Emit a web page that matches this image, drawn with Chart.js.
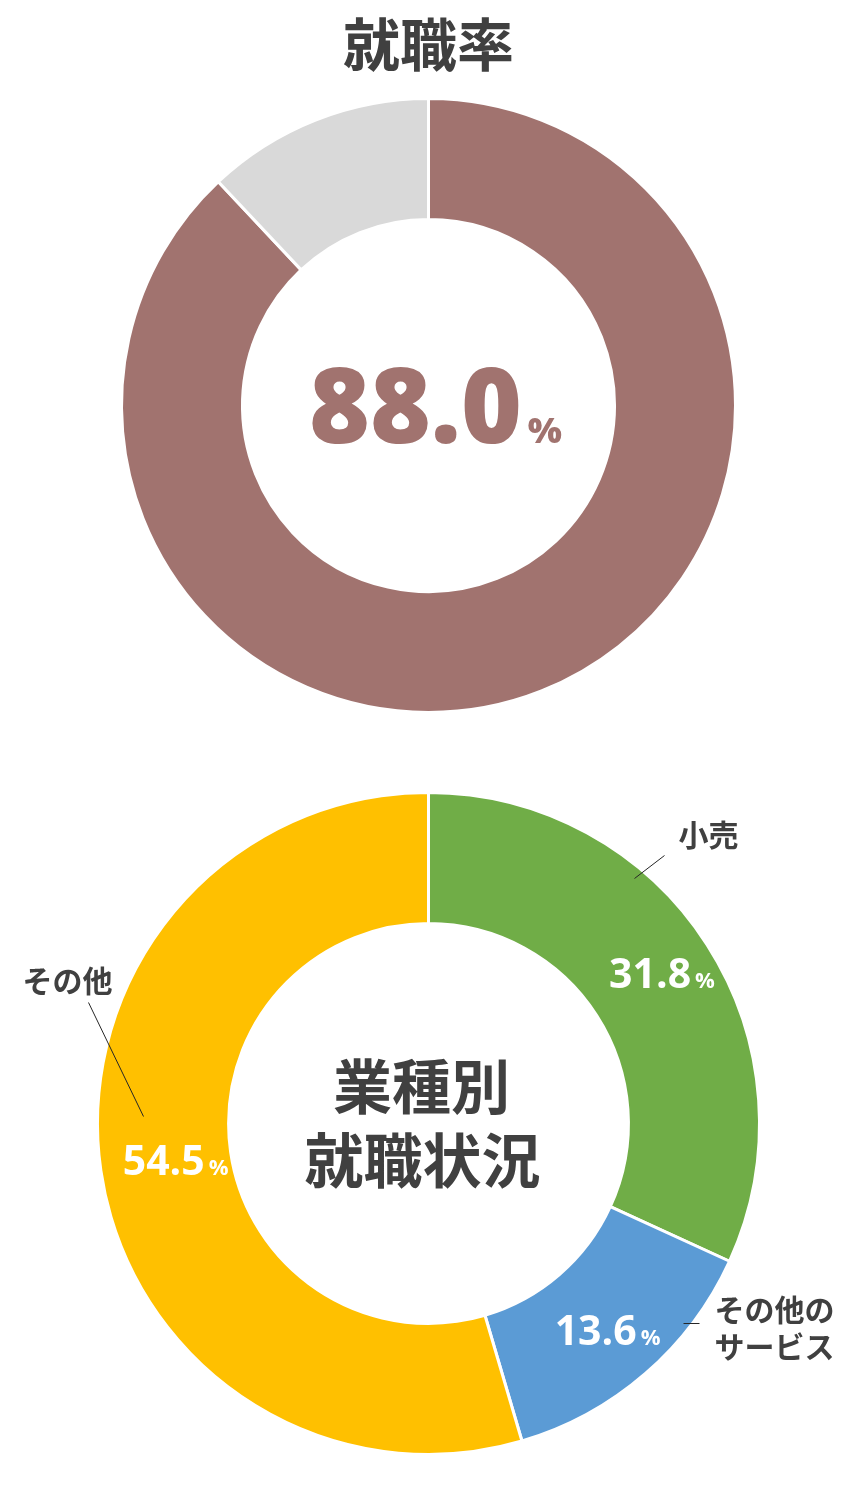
<!DOCTYPE html>
<html lang="ja">
<head>
<meta charset="utf-8">
<title>就職率 / 業種別就職状況</title>
<script src="https://cdn.jsdelivr.net/npm/chart.js"></script>
<style>
  html, body { margin: 0; padding: 0; background: #fff; }
  body { width: 857px; height: 1511px; position: relative; overflow: hidden; }
  #rateChart { position: absolute; left: 0; top: 0; }
  #sectorChart { position: absolute; left: 0; top: 720px; }
</style>
</head>
<body>
<canvas id="rateChart" width="857" height="720"></canvas>
<canvas id="sectorChart" width="857" height="791"></canvas>

<script>
/* ---------- DATA ---------- */

const rateLabels = ['就職', '未就職'];
const rateValues = [88.0, 12.0];
const rateColors = ['#A1736F', '#D9D9D9'];

const sectorLabels = ['小売', 'その他のサービス', 'その他'];
const sectorValues = [31.8, 13.6, 54.5];
const sectorColors = ['#70AD47', '#5B9BD5', '#FFC000'];

/* ---------- STYLE ---------- */

const TEXT = '#404040';
const NUM_FONT = '"Open Sans", "Noto Sans", sans-serif';
const JP_FONT = '"Noto Sans CJK JP", "Noto Sans CJK SC", sans-serif';

// draws "31.8" followed by a smaller "%", the pair centred on x / y
function drawPercent(ctx, x, y, value, o) {
  const num = value.toFixed(1);
  ctx.textAlign = 'left';
  ctx.textBaseline = 'alphabetic';
  ctx.font = `${o.weight} ${o.size}px ${NUM_FONT}`;
  const w1 = ctx.measureText(num).width;
  ctx.font = `${o.weight} ${o.pctSize}px ${NUM_FONT}`;
  const w2 = ctx.measureText('%').width;
  const left = x - (w1 + o.gap + w2) / 2;
  const base = y + o.size * 0.36;
  ctx.fillStyle = o.color;
  ctx.font = `${o.weight} ${o.size}px ${NUM_FONT}`;
  ctx.fillText(num, left, base);
  ctx.font = `${o.weight} ${o.pctSize}px ${NUM_FONT}`;
  ctx.fillText('%', left + w1 + o.gap, base);
}

/* ---------- TEXT PLUGIN ---------- */

const donutText = {
  id: 'donutText',
  afterDatasetsDraw(chart, args, opts) {
    const ctx = chart.ctx;
    const meta = chart.getDatasetMeta(0);
    const arcs = meta.data;
    const values = chart.data.datasets[0].data;
    const cx = arcs[0].x, cy = arcs[0].y;

    ctx.save();
    ctx.textBaseline = 'middle';

    if (opts.title) {
      ctx.fillStyle = TEXT;
      ctx.textAlign = 'center';
      ctx.font = `700 ${opts.title.size}px ${JP_FONT}`;
      ctx.fillText(opts.title.text, chart.width / 2, opts.title.y);
    }

    // big value in the hole
    if (opts.centerValue) {
      const c = opts.centerValue;
      drawPercent(ctx, cx + c.dx, cy + c.dy, values[c.index], c);
    }

    // words in the hole
    (opts.centerLines || []).forEach(l => {
      ctx.fillStyle = TEXT;
      ctx.textAlign = 'center';
      ctx.textBaseline = 'middle';
      ctx.font = `700 ${l.size}px ${JP_FONT}`;
      ctx.fillText(l.text, cx + l.dx, cy + l.dy);
    });

    // values on the ring
    if (opts.segmentValues) {
      const s = opts.segmentValues;
      arcs.forEach((arc, i) => {
        const p = arc.getProps(['startAngle', 'endAngle', 'innerRadius', 'outerRadius']);
        const mid = (p.startAngle + p.endAngle) / 2;
        const r = (p.innerRadius + p.outerRadius) / 2 + (s.shift[i] || 0);
        drawPercent(ctx, cx + Math.cos(mid) * r, cy + Math.sin(mid) * r, values[i], s);
      });
    }

    // outside names with leader lines
    (opts.callouts || []).forEach(c => {
      ctx.strokeStyle = '#262626';
      ctx.lineWidth = 1;
      ctx.beginPath();
      ctx.moveTo(cx + c.line[0], cy + c.line[1]);
      ctx.lineTo(cx + c.line[2], cy + c.line[3]);
      ctx.stroke();

      ctx.fillStyle = TEXT;
      ctx.textAlign = c.align;
      ctx.textBaseline = 'middle';
      ctx.font = `700 ${c.size}px ${JP_FONT}`;
      c.lines.forEach((t, k) => {
        ctx.fillText(t, cx + c.dx, cy + c.dy + k * c.lineHeight);
      });
    });

    ctx.restore();
  }
};

/* ---------- TOP: 就職率 ---------- */

new Chart(document.getElementById('rateChart'), {
  type: 'doughnut',
  data: {
    labels: rateLabels,
    datasets: [{
      data: rateValues,
      backgroundColor: rateColors,
      borderColor: '#ffffff',
      borderWidth: 3
    }]
  },
  options: {
    responsive: false,
    animation: false,
    events: [],
    cutout: '60.6%',
    layout: { padding: { top: 97, bottom: 6, left: 0, right: 0 } },
    plugins: {
      legend: { display: false },
      tooltip: { enabled: false },
      donutText: {
        title: { text: '就職率', size: 57, y: 44 },
        centerValue: { index: 0, dx: 7, dy: 0, size: 104, pctSize: 36, weight: 800, gap: 6, color: '#A1736F' }
      }
    }
  },
  plugins: [donutText]
});

/* ---------- BOTTOM: 業種別就職状況 ---------- */

new Chart(document.getElementById('sectorChart'), {
  type: 'doughnut',
  data: {
    labels: sectorLabels,
    datasets: [{
      data: sectorValues,
      backgroundColor: sectorColors,
      borderColor: '#ffffff',
      borderWidth: 3
    }]
  },
  options: {
    responsive: false,
    animation: false,
    events: [],
    cutout: '60.4%',
    layout: { padding: { top: 71, bottom: 55, left: 0, right: 0 } },
    plugins: {
      legend: { display: false },
      tooltip: { enabled: false },
      donutText: {
        centerLines: [
          { text: '業種別', dx: -7, dy: -37, size: 59 },
          { text: '就職状況', dx: -6, dy: 37, size: 59 }
        ],
        segmentValues: { size: 41, pctSize: 22, weight: 700, gap: 4, color: '#ffffff', shift: [12, 8, -10] },
        callouts: [
          { lines: ['小売'], line: [206, -245, 236, -268], dx: 280, dy: -289, align: 'center', size: 30, lineHeight: 37 },
          { lines: ['その他の', 'サービス'], line: [255, 200, 271, 200], dx: 286, dy: 186, align: 'left', size: 30, lineHeight: 37 },
          { lines: ['その他'], line: [-340, -121, -285, -7], dx: -361, dy: -143, align: 'center', size: 30, lineHeight: 37 }
        ]
      }
    }
  },
  plugins: [donutText]
});
</script>
</body>
</html>
